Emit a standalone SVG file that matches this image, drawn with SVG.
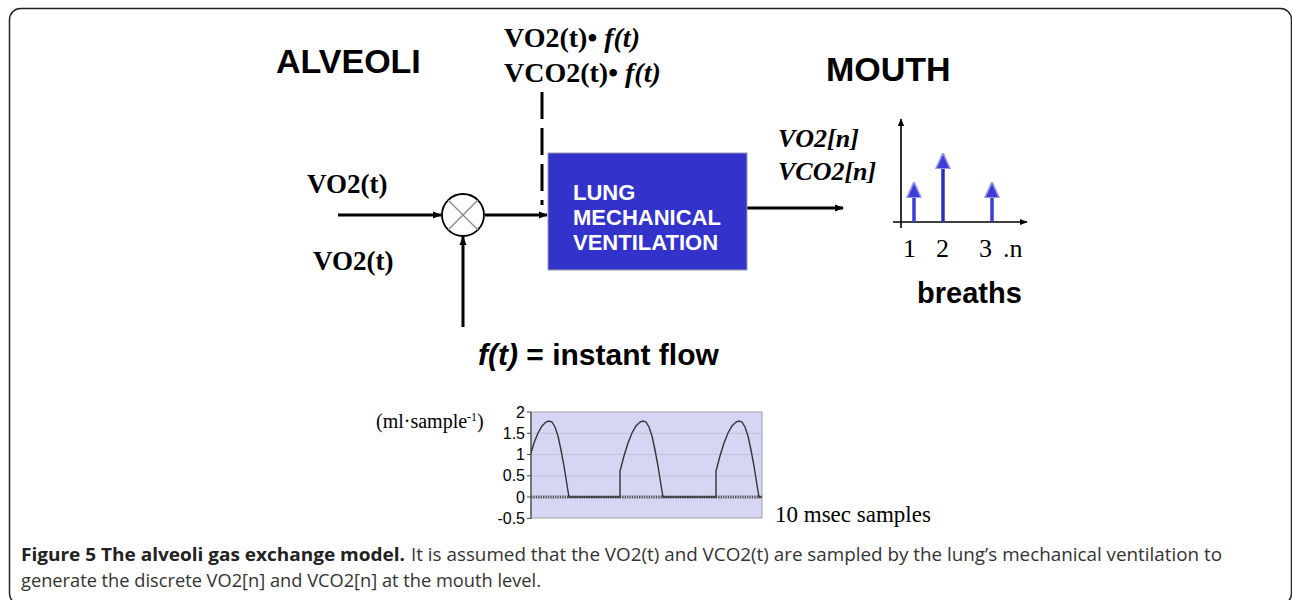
<svg xmlns="http://www.w3.org/2000/svg" width="1292" height="600" viewBox="0 0 1292 600">
<defs>
<style>
.sans{font-family:"Liberation Sans",Arial,sans-serif}
.serif{font-family:"Liberation Serif","Times New Roman",serif}
.b{font-weight:bold}
.i{font-style:italic}
.wire{stroke:#000;stroke-width:3;fill:none}
.tick{font-family:"Liberation Sans",Arial,sans-serif;font-size:16px;text-anchor:end;fill:#000}
.cap{font-family:"Open Sans","Noto Sans",sans-serif;font-size:18px}
</style>
<marker id="ah" viewBox="0 0 10 10" refX="9" refY="5" markerWidth="9" markerHeight="9" markerUnits="userSpaceOnUse" orient="auto">
<path d="M0,1 L10,5 L0,9 Z" fill="#000"/>
</marker>
<marker id="ahs" viewBox="0 0 10 10" refX="9" refY="5" markerWidth="8" markerHeight="8" markerUnits="userSpaceOnUse" orient="auto">
<path d="M0,1 L10,5 L0,9 Z" fill="#000"/>
</marker>
<marker id="bh" viewBox="0 0 10 10" refX="3" refY="5" markerWidth="16" markerHeight="16" markerUnits="userSpaceOnUse" orient="auto">
<path d="M0,0.5 L10,5 L0,9.5 Z" fill="#3c3cd6" stroke="#9a9ae8" stroke-width="1"/>
</marker>
<clipPath id="plotclip"><rect x="531" y="412" width="231" height="106"/></clipPath>
</defs>

<rect x="9.5" y="8.5" width="1282" height="596" rx="11" fill="#fff" stroke="#222" stroke-width="1.5"/>

<g id="titles">
<text class="sans b" x="276" y="73" font-size="34">ALVEOLI</text>
<text class="sans b" x="826" y="81" font-size="34">MOUTH</text>
</g>

<g id="product-label">
<text class="serif b" x="504" y="47" font-size="28">VO2(t)• <tspan class="i">f(t)</tspan></text>
<text class="serif b" x="504" y="82" font-size="28">VCO2(t)• <tspan class="i">f(t)</tspan></text>
</g>

<g id="inputs">
<text class="serif b" x="307" y="193" font-size="27">VO2(t)</text>
<text class="serif b" x="313" y="270" font-size="27">VO2(t)</text>
</g>

<g id="connectors">
<line class="wire" x1="338" y1="215" x2="441" y2="215" marker-end="url(#ah)"/>
<line class="wire" x1="463" y1="327" x2="463" y2="237" marker-end="url(#ah)"/>
<line class="wire" x1="485" y1="215" x2="547" y2="215" marker-end="url(#ah)"/>
<line class="wire" x1="542" y1="92" x2="542" y2="205" stroke-dasharray="27 9"/>
<line class="wire" x1="747" y1="208" x2="843" y2="208" marker-end="url(#ah)"/>
</g>

<g id="multiplier">
<circle cx="463" cy="215" r="21" fill="#fff" stroke="#000" stroke-width="1.8"/>
<line x1="448" y1="200" x2="478" y2="230" stroke="#888" stroke-width="1.3"/>
<line x1="478" y1="200" x2="448" y2="230" stroke="#888" stroke-width="1.3"/>
</g>

<g id="lung-box">
<rect x="548" y="153" width="199" height="117" fill="#3333cc" stroke="#9a9ab0" stroke-width="1"/>
<text class="sans b" x="573" y="200" font-size="22" fill="#fff">LUNG</text>
<text class="sans b" x="573" y="225" font-size="22" fill="#fff">MECHANICAL</text>
<text class="sans b" x="573" y="250" font-size="22" fill="#fff">VENTILATION</text>
</g>

<g id="output-label">
<text class="serif b i" x="778" y="147" font-size="26">VO2[n]</text>
<text class="serif b i" x="778" y="180" font-size="26">VCO2[n]</text>
</g>

<g id="breaths-plot">
<line x1="901" y1="228" x2="901" y2="119" stroke="#000" stroke-width="1.6" marker-end="url(#ahs)"/>
<line x1="893" y1="222" x2="1027" y2="222" stroke="#000" stroke-width="1.6" marker-end="url(#ahs)"/>
<line x1="914" y1="222" x2="914" y2="193" stroke="#3c3cd6" stroke-width="3.5" marker-end="url(#bh)"/>
<line x1="943" y1="222" x2="943" y2="164" stroke="#2c2cc0" stroke-width="3.5" marker-end="url(#bh)"/>
<line x1="992" y1="222" x2="992" y2="193" stroke="#3c3cd6" stroke-width="3.5" marker-end="url(#bh)"/>
<text class="serif" x="903" y="257" font-size="26">1</text>
<text class="serif" x="936" y="257" font-size="26">2</text>
<text class="serif" x="979" y="257" font-size="26">3</text>
<text class="serif" x="1003" y="257" font-size="26">.n</text>
<text class="sans b" x="917" y="303" font-size="29">breaths</text>
</g>

<g id="flow-label">
<text class="sans b" x="478" y="365" font-size="30"><tspan class="i">f(t)</tspan> = instant flow</text>
</g>

<g id="flow-chart">
<rect x="531" y="412" width="231" height="106" fill="#d6d6f4" stroke="#a0a0a8" stroke-width="1"/>
<g stroke="#c4c4d4" stroke-width="1">
<line x1="531" y1="433.3" x2="762" y2="433.3"/>
<line x1="531" y1="454.5" x2="762" y2="454.5"/>
<line x1="531" y1="475.8" x2="762" y2="475.8"/>
</g>
<line x1="531" y1="412" x2="531" y2="519" stroke="#444" stroke-width="1.2"/>
<g stroke="#444" stroke-width="1">
<line x1="527" y1="412" x2="531" y2="412"/>
<line x1="527" y1="433.3" x2="531" y2="433.3"/>
<line x1="527" y1="454.5" x2="531" y2="454.5"/>
<line x1="527" y1="475.8" x2="531" y2="475.8"/>
<line x1="527" y1="497" x2="531" y2="497"/>
<line x1="527" y1="518.3" x2="531" y2="518.3"/>
</g>
<line x1="531" y1="497" x2="762" y2="497" stroke="#555" stroke-width="3.2" stroke-dasharray="1.4 1"/>
<path clip-path="url(#plotclip)" fill="none" stroke="#333" stroke-width="1.4" d="M526,471 L530,456 L534,443 L538,433 L542,426 L546,422 L549,421 L552,422 L555,427 L558,436 L561,450 L564,466 L567,485 L569,497 L620,497 L620,471 L624,456 L628,443 L632,433 L636,426 L640,422 L643,421 L646,422 L649,427 L652,436 L655,450 L658,466 L661,485 L663,497 L716,497 L716,471 L720,456 L724,443 L728,433 L732,426 L736,422 L739,421 L742,422 L745,427 L748,436 L751,450 L754,466 L757,485 L759,497 L762,497"/>
<text class="tick" x="525" y="418">2</text>
<text class="tick" x="525" y="439">1.5</text>
<text class="tick" x="525" y="460">1</text>
<text class="tick" x="525" y="481">0.5</text>
<text class="tick" x="525" y="503">0</text>
<text class="tick" x="525" y="524">-0.5</text>
<text class="serif" x="376" y="428" font-size="20">(ml·sample<tspan font-size="12" dy="-7">-1</tspan><tspan dy="7">)</tspan></text>
<text class="serif" x="775" y="522" font-size="23">10 msec samples</text>
</g>

<g id="caption">
<text class="cap" x="21" y="561" font-weight="bold" fill="#222" textLength="384" lengthAdjust="spacingAndGlyphs">Figure 5 The alveoli gas exchange model.</text>
<text class="cap" x="411" y="561" fill="#333" textLength="811" lengthAdjust="spacingAndGlyphs">It is assumed that the VO2(t) and VCO2(t) are sampled by the lung’s mechanical ventilation to</text>
<text class="cap" x="21" y="587" fill="#333" textLength="520" lengthAdjust="spacingAndGlyphs">generate the discrete VO2[n] and VCO2[n] at the mouth level.</text>
</g>
</svg>
